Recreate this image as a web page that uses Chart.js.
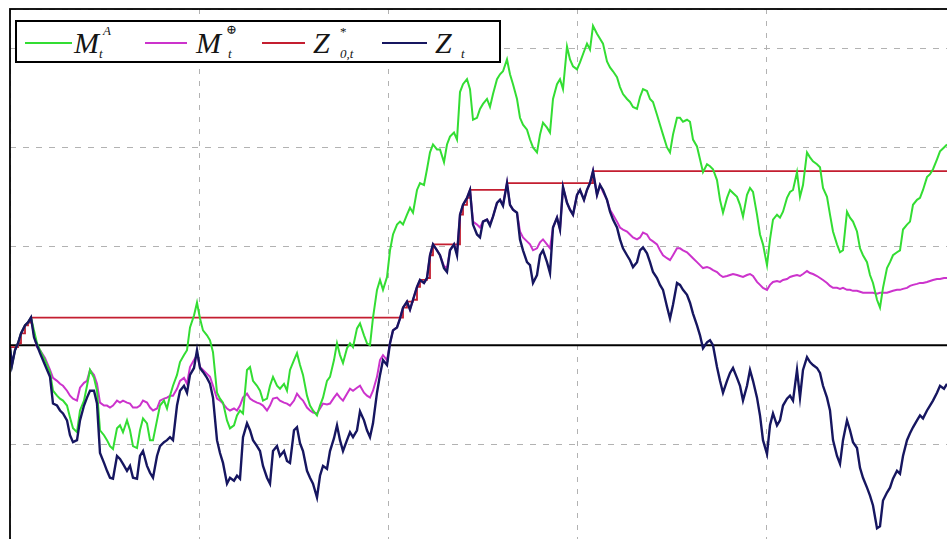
<!DOCTYPE html>
<html>
<head>
<meta charset="utf-8">
<script src="https://cdn.jsdelivr.net/npm/chart.js@4.4.1/dist/chart.umd.min.js"></script>
<style>
  html, body { margin: 0; padding: 0; background: #fff; overflow: hidden; width: 947px; height: 539px; }
  #wrap { position: absolute; left: 0; top: 0; width: 958px; height: 546px; }
  #lgbox { position: absolute; left: 15px; top: 20px; width: 486px; height: 43px; box-sizing: border-box;
           border: 2px solid #000; background: #fff; }
  .sw { position: absolute; height: 2px; top: 42px; }
  .lg { position: absolute; font-family: "Liberation Serif", "DejaVu Serif", serif; font-style: italic;
        color: #151515; white-space: nowrap; }
  .big { font-size: 30px; line-height: 30px; top: 28px; }
  .sm { font-size: 13px; line-height: 13px; }
  .up { font-style: normal; }
</style>
</head>
<body>
<div id="wrap"><canvas id="c"></canvas></div>

<div id="lgbox"></div>
<div class="sw" style="left:25px;width:47px;background:#33dd33"></div>
<span class="lg big" style="left:74px">M</span>
<span class="lg sm" style="left:103px;top:24px">A</span>
<span class="lg sm" style="left:99px;top:47px">t</span>

<div class="sw" style="left:145px;width:42px;background:#cc33cc"></div>
<span class="lg big" style="left:196px">M</span>
<span class="lg sm up" style="left:226px;top:23px">⊕</span>
<span class="lg sm" style="left:228px;top:47px">t</span>

<div class="sw" style="left:262px;width:43px;background:#c41e30"></div>
<span class="lg big" style="left:313px">Z</span>
<span class="lg sm up" style="left:340px;top:25px">*</span>
<span class="lg sm" style="left:340px;top:47px">0,t</span>

<div class="sw" style="left:382px;width:45px;background:#161660"></div>
<span class="lg big" style="left:435px">Z</span>
<span class="lg sm" style="left:461px;top:47px">t</span>

<script>
// time index of each sample (horizon of 945 steps, grid every 189 steps)
const steps = [
  0,2,5,8,11,15,18,21,24,27,
  30,35,40,43,47,50,53,57,60,63,
  67,70,74,77,80,84,87,90,94,97,
  100,103,107,110,113,117,120,123,127,130,
  133,137,140,143,147,150,154,157,160,163,
  167,170,174,177,180,184,187,190,193,197,
  200,203,207,210,213,217,220,224,227,230,
  233,237,240,243,247,250,253,257,260,263,
  267,270,274,277,280,284,287,290,293,297,
  300,303,307,310,313,317,320,324,327,330,
  333,337,340,343,347,350,354,357,360,363,
  367,370,373,377,380,383,387,390,393,397,
  400,403,407,410,414,417,420,423,427,430,
  434,437,440,444,447,450,453,457,460,463,
  467,470,473,477,480,483,487,490,493,497,
  500,503,507,510,513,517,520,523,527,530,
  533,537,540,543,547,550,553,557,560,563,
  567,570,574,577,580,583,587,590,593,597,
  600,603,607,610,613,617,620,623,627,630,
  633,637,640,643,647,650,653,657,660,663,
  667,670,673,677,680,683,687,690,693,697,
  700,703,707,710,713,717,720,723,727,730,
  733,737,740,743,747,750,753,757,760,763,
  767,770,773,777,780,783,787,790,793,797,
  800,803,807,810,813,817,820,823,827,830,
  833,837,840,843,847,850,853,857,860,863,
  867,870,873,877,880,883,887,890,893,897,
  900,903,907,910,913,917,920,923,927,930,
  934,937
];

// M_t^A
const mA = [
  -0.02,-0.20,-0.05,0.02,0.12,0.20,0.23,0.28,0.15,0.02,
  -0.05,-0.15,-0.27,-0.46,-0.51,-0.54,-0.56,-0.61,-0.73,-0.84,
  -0.88,-0.66,-0.56,-0.41,-0.25,-0.33,-0.46,-0.86,-0.91,-0.96,
  -1.02,-1.05,-0.84,-0.81,-0.88,-0.76,-0.86,-1.02,-1.04,-0.86,
  -0.74,-0.79,-0.96,-0.96,-0.76,-0.61,-0.56,-0.64,-0.51,-0.41,
  -0.30,-0.17,-0.10,-0.05,0.18,0.30,0.43,0.27,0.15,0.10,
  0.05,-0.07,-0.48,-0.54,-0.58,-0.76,-0.84,-0.81,-0.71,-0.66,
  -0.69,-0.25,-0.22,-0.36,-0.41,-0.46,-0.56,-0.54,-0.41,-0.32,
  -0.41,-0.44,-0.39,-0.46,-0.25,-0.15,-0.08,-0.20,-0.30,-0.51,
  -0.61,-0.66,-0.71,-0.61,-0.53,-0.36,-0.32,-0.15,0.02,-0.10,
  -0.18,-0.03,0.02,-0.02,0.17,0.22,0.10,0.02,0.00,0.28,
  0.56,0.66,0.56,0.69,0.96,1.12,1.22,1.25,1.22,1.32,
  1.39,1.34,1.57,1.64,1.62,1.78,1.95,2.03,1.98,1.98,
  1.85,2.03,2.11,2.15,2.08,2.56,2.64,2.69,2.59,2.28,
  2.30,2.39,2.44,2.49,2.41,2.54,2.69,2.74,2.77,2.89,
  2.74,2.64,2.49,2.30,2.23,2.18,2.08,2.00,1.95,2.13,
  2.25,2.20,2.15,2.49,2.64,2.69,2.59,3.02,2.89,2.82,
  2.79,2.86,2.97,3.05,2.99,3.23,3.15,3.10,3.05,2.87,
  2.81,2.77,2.71,2.61,2.54,2.49,2.46,2.41,2.39,2.51,
  2.59,2.57,2.49,2.46,2.33,2.23,2.13,2.00,1.95,2.13,
  2.30,2.30,2.26,2.28,2.26,2.08,2.01,1.88,1.75,1.83,
  1.81,1.78,1.67,1.47,1.34,1.49,1.57,1.54,1.50,1.42,
  1.30,1.52,1.59,1.55,1.32,1.12,1.02,0.81,1.07,1.27,
  1.32,1.29,1.35,1.49,1.55,1.57,1.75,1.50,1.62,1.95,
  1.90,1.86,1.83,1.80,1.59,1.50,1.32,1.15,1.02,0.94,
  0.96,1.35,1.29,1.25,1.15,0.98,0.91,0.84,0.71,0.63,
  0.46,0.38,0.58,0.78,0.84,0.91,0.94,0.96,1.17,1.22,
  1.25,1.42,1.47,1.49,1.57,1.70,1.73,1.78,1.88,1.96,
  2.00,2.03
];

// M_t^⊕
const mPlus = [
  -0.02,-0.20,-0.05,0.02,0.12,0.20,0.23,0.28,0.10,-0.02,
  -0.05,-0.13,-0.25,-0.33,-0.36,-0.39,-0.41,-0.46,-0.51,-0.54,
  -0.56,-0.43,-0.38,-0.36,-0.25,-0.30,-0.39,-0.58,-0.61,-0.61,
  -0.63,-0.61,-0.56,-0.58,-0.56,-0.58,-0.59,-0.63,-0.63,-0.61,
  -0.56,-0.58,-0.63,-0.66,-0.64,-0.56,-0.54,-0.53,-0.51,-0.51,
  -0.44,-0.36,-0.33,-0.39,-0.22,-0.15,-0.10,-0.22,-0.25,-0.29,
  -0.32,-0.41,-0.54,-0.56,-0.59,-0.64,-0.66,-0.64,-0.66,-0.61,
  -0.53,-0.49,-0.54,-0.56,-0.58,-0.59,-0.61,-0.66,-0.61,-0.54,
  -0.53,-0.56,-0.58,-0.59,-0.61,-0.56,-0.49,-0.53,-0.56,-0.63,
  -0.66,-0.68,-0.69,-0.64,-0.59,-0.60,-0.59,-0.53,-0.49,-0.53,
  -0.56,-0.49,-0.44,-0.46,-0.43,-0.41,-0.48,-0.51,-0.53,-0.46,
  -0.32,-0.15,-0.10,-0.15,0.02,0.15,0.18,0.27,0.38,0.44,
  0.36,0.46,0.59,0.66,0.63,0.68,0.91,1.02,0.96,0.91,
  0.80,0.78,0.96,1.02,0.93,1.32,1.42,1.49,1.57,1.25,
  1.22,1.19,1.25,1.27,1.23,1.30,1.44,1.47,1.42,1.64,
  1.42,1.37,1.34,1.15,1.09,1.05,1.02,0.96,0.98,1.04,
  1.07,1.02,0.98,1.19,1.29,1.17,1.60,1.44,1.37,1.32,
  1.52,1.57,1.47,1.57,1.64,1.76,1.52,1.62,1.55,1.47,
  1.37,1.32,1.25,1.19,1.17,1.15,1.12,1.09,1.07,1.09,
  1.14,1.12,1.07,1.05,1.02,0.96,0.91,0.88,0.86,0.91,
  0.98,0.98,0.96,0.94,0.91,0.88,0.84,0.81,0.78,0.79,
  0.78,0.76,0.74,0.71,0.69,0.70,0.71,0.72,0.71,0.70,
  0.69,0.71,0.72,0.70,0.64,0.61,0.58,0.56,0.61,0.64,
  0.65,0.64,0.66,0.67,0.69,0.70,0.71,0.70,0.72,0.75,
  0.73,0.72,0.70,0.68,0.66,0.63,0.60,0.58,0.58,0.57,
  0.58,0.56,0.56,0.55,0.55,0.54,0.53,0.53,0.53,0.53,
  0.52,0.53,0.53,0.53,0.54,0.55,0.56,0.56,0.57,0.58,
  0.60,0.61,0.62,0.63,0.63,0.64,0.65,0.66,0.67,0.67,
  0.68,0.68
];

// Z_t
const z = [
  -0.02,-0.20,-0.05,0.02,0.12,0.20,0.23,0.28,0.08,0.00,
  -0.08,-0.20,-0.32,-0.59,-0.61,-0.66,-0.69,-0.76,-0.91,-0.98,
  -0.96,-0.76,-0.61,-0.53,-0.46,-0.46,-0.59,-1.09,-1.19,-1.27,
  -1.34,-1.35,-1.12,-1.15,-1.20,-1.27,-1.22,-1.34,-1.35,-1.12,
  -1.07,-1.22,-1.29,-1.34,-1.12,-1.02,-0.98,-0.96,-0.93,-0.96,
  -0.61,-0.46,-0.41,-0.48,-0.30,-0.23,-0.05,-0.23,-0.27,-0.33,
  -0.39,-0.53,-0.96,-1.09,-1.19,-1.40,-1.34,-1.37,-1.32,-1.35,
  -0.93,-0.79,-0.86,-0.96,-1.02,-1.07,-1.22,-1.34,-1.40,-1.07,
  -1.02,-1.12,-1.07,-1.17,-1.19,-0.86,-0.83,-0.99,-1.07,-1.27,
  -1.34,-1.40,-1.54,-1.32,-1.22,-1.25,-1.07,-0.94,-0.81,-0.96,
  -1.07,-0.96,-0.88,-0.93,-0.86,-0.67,-0.76,-0.86,-0.93,-0.79,
  -0.48,-0.30,-0.15,-0.20,0.02,0.15,0.18,0.27,0.38,0.44,
  0.36,0.46,0.59,0.66,0.63,0.68,0.91,1.02,0.96,0.91,
  0.78,0.74,0.96,1.02,0.91,1.32,1.42,1.49,1.57,1.22,
  1.12,1.09,1.25,1.27,1.21,1.30,1.44,1.47,1.41,1.64,
  1.42,1.37,1.34,1.07,0.96,0.84,0.81,0.63,0.71,0.91,
  0.96,0.84,0.73,1.19,1.29,1.17,1.60,1.44,1.37,1.32,
  1.52,1.57,1.47,1.57,1.64,1.76,1.52,1.62,1.57,1.47,
  1.35,1.27,1.19,1.07,0.98,0.91,0.86,0.79,0.84,0.96,
  0.99,0.93,0.84,0.74,0.68,0.61,0.56,0.39,0.27,0.41,
  0.63,0.61,0.56,0.51,0.43,0.32,0.20,0.10,-0.03,0.03,
  0.05,0.00,-0.22,-0.36,-0.48,-0.36,-0.28,-0.23,-0.33,-0.41,
  -0.56,-0.41,-0.25,-0.36,-0.53,-0.71,-0.96,-1.10,-0.81,-0.69,
  -0.81,-0.76,-0.61,-0.54,-0.51,-0.56,-0.25,-0.53,-0.25,-0.12,
  -0.17,-0.20,-0.23,-0.28,-0.41,-0.53,-0.66,-0.96,-1.12,-1.20,
  -0.96,-0.76,-0.86,-0.98,-1.04,-1.24,-1.34,-1.44,-1.52,-1.62,
  -1.85,-1.83,-1.57,-1.49,-1.44,-1.35,-1.27,-1.30,-1.12,-0.96,
  -0.89,-0.83,-0.76,-0.71,-0.74,-0.66,-0.61,-0.56,-0.48,-0.41,
  -0.44,-0.39
];

// Z*_{0,t}: running maximum, listed where it changes level
const maxSteps  = [0,8,11,15,18,21,393,397,403,407,410,417,420,423,450,453,457,460,497,583,937];
const maxValues = [-0.02,0.02,0.12,0.20,0.23,0.28,0.38,0.44,0.46,0.59,0.66,0.68,0.91,1.02,1.32,1.42,1.49,1.57,1.64,1.76,1.76];

// reference level
const zeroSteps  = [0, 945];
const zeroValues = [0, 0];

const pts = (xs, ys) => xs.map((x, i) => ({ x, y: ys[i] }));

const framePlugin = {
  id: 'frame',
  afterDraw(chart) {
    const { ctx, chartArea: a } = chart;
    ctx.save();
    ctx.strokeStyle = '#000';
    ctx.lineWidth = 1.8;
    ctx.strokeRect(a.left, a.top, a.right - a.left, a.bottom - a.top);
    ctx.restore();
  }
};

const lineDefaults = { pointRadius: 0, pointHoverRadius: 0, tension: 0, fill: false };

new Chart(document.getElementById('c'), {
  type: 'line',
  data: {
    datasets: [
      { ...lineDefaults, label: 'Z_t', data: pts(steps, z), borderColor: '#161660', borderWidth: 2.4, order: 0 },
      { ...lineDefaults, label: 'M_t^A', data: pts(steps, mA), borderColor: '#33dd33', borderWidth: 2, order: 1 },
      { ...lineDefaults, label: 'M_t^⊕', data: pts(steps, mPlus), borderColor: '#cc33cc', borderWidth: 2, order: 2 },
      { ...lineDefaults, label: 'Z*_0,t', data: pts(maxSteps, maxValues), borderColor: '#c41e30', borderWidth: 1.8, stepped: 'before', order: 3 },
      { ...lineDefaults, label: 'zero', data: pts(zeroSteps, zeroValues), borderColor: '#000', borderWidth: 2, order: 4 }
    ]
  },
  options: {
    responsive: true,
    maintainAspectRatio: false,
    animation: false,
    events: [],
    layout: { padding: { left: 10, top: 9, right: 3, bottom: 3 } },
    plugins: { legend: { display: false }, tooltip: { enabled: false } },
    scales: {
      x: {
        type: 'linear', min: 0, max: 945,
        ticks: { display: false, stepSize: 189 },
        grid: { color: '#b2b2b2', lineWidth: 1, drawTicks: false },
        border: { display: false, dash: [5, 7] }
      },
      y: {
        type: 'linear', min: -2, max: 3.4,
        ticks: { display: false, stepSize: 1 },
        grid: { color: '#b2b2b2', lineWidth: 1, drawTicks: false },
        border: { display: false, dash: [6, 7] }
      }
    }
  },
  plugins: [framePlugin]
});
</script>
</body>
</html>
